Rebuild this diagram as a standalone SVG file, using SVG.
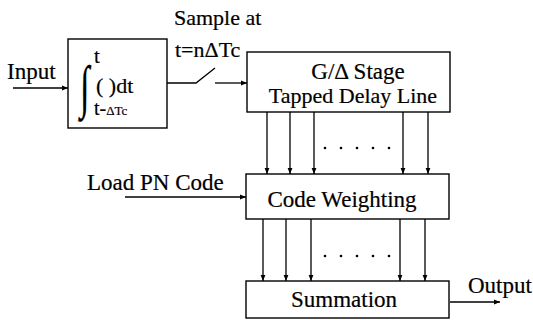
<svg xmlns="http://www.w3.org/2000/svg" width="533" height="320" viewBox="0 0 533 320">
  <style>
    .box { fill: #fff; stroke: #000; stroke-width: 1.4; }
    .wire { fill: none; stroke: #000; stroke-width: 1.3; }
    text { font-family: "Liberation Serif", "Times New Roman", serif; font-size: 23px; fill: #000; stroke: #000; stroke-width: 0.2; }
    .mid { text-anchor: middle; }
    .dot { fill: #000; }
  </style>
  <defs>
    <marker id="arrow" viewBox="0 0 8 8" refX="8" refY="4" markerWidth="6" markerHeight="6" orient="auto" markerUnits="userSpaceOnUse">
      <path d="M0,0.8 L8,4 L0,7.2 Z" fill="#000"/>
    </marker>
  </defs>

  <rect width="533" height="320" fill="#fff"/>

  <!-- integrate-and-dump block -->
  <g id="integrator">
    <rect class="box" x="68" y="39" width="99" height="89"/>
    <text x="80" y="106" style="font-size:58px" transform="translate(80 0) scale(0.6 1) translate(-80 0)">∫</text>
    <text x="94" y="63" style="font-size:21px">t</text>
    <text x="96" y="93" style="font-size:22px">( )dt</text>
    <text x="94" y="115" style="font-size:20px">t-<tspan style="font-size:13px">ΔTc</tspan></text>
  </g>

  <!-- tapped delay line -->
  <g id="delay-line">
    <rect class="box" x="247" y="52" width="203" height="60"/>
    <text class="mid" x="358" y="79">G/Δ Stage</text>
    <text class="mid" x="353" y="103" style="font-size:22px">Tapped Delay Line</text>
  </g>

  <!-- code weighting -->
  <g id="code-weighting">
    <rect class="box" x="246" y="174" width="203" height="45"/>
    <text class="mid" x="342" y="207">Code Weighting</text>
  </g>

  <!-- summation -->
  <g id="summation">
    <rect class="box" x="246" y="281" width="203" height="37"/>
    <text class="mid" x="344" y="307">Summation</text>
  </g>

  <!-- free labels -->
  <g id="labels">
    <text x="7" y="79">Input</text>
    <text x="174" y="25" style="font-size:22px">Sample at</text>
    <text x="175" y="57" style="font-size:22px">t=nΔTc</text>
    <text x="87" y="190">Load PN Code</text>
    <text x="468" y="293">Output</text>
  </g>

  <g id="connectors">
    <!-- input -->
    <line class="wire" x1="13" y1="88" x2="68" y2="88" marker-end="url(#arrow)"/>
    <!-- sampling switch -->
    <polyline class="wire" points="167,83 196,83 215,68"/>
    <line class="wire" x1="215" y1="83" x2="247" y2="83" marker-end="url(#arrow)"/>
    <!-- taps to code weighting -->
    <line class="wire" x1="267" y1="112" x2="267" y2="174" marker-end="url(#arrow)"/>
    <line class="wire" x1="290" y1="112" x2="290" y2="174" marker-end="url(#arrow)"/>
    <line class="wire" x1="314" y1="112" x2="314" y2="174" marker-end="url(#arrow)"/>
    <line class="wire" x1="403" y1="112" x2="403" y2="174" marker-end="url(#arrow)"/>
    <line class="wire" x1="428" y1="112" x2="428" y2="174" marker-end="url(#arrow)"/>
    <!-- PN code load -->
    <line class="wire" x1="125" y1="197" x2="246" y2="197" marker-end="url(#arrow)"/>
    <!-- weighted taps to summation -->
    <line class="wire" x1="263" y1="219" x2="263" y2="281" marker-end="url(#arrow)"/>
    <line class="wire" x1="286" y1="219" x2="286" y2="281" marker-end="url(#arrow)"/>
    <line class="wire" x1="311" y1="219" x2="311" y2="281" marker-end="url(#arrow)"/>
    <line class="wire" x1="400" y1="219" x2="400" y2="281" marker-end="url(#arrow)"/>
    <line class="wire" x1="425" y1="219" x2="425" y2="281" marker-end="url(#arrow)"/>
    <!-- output -->
    <line class="wire" x1="450" y1="302" x2="500" y2="302" marker-end="url(#arrow)"/>
    <!-- ellipsis between taps -->
    <g class="dot">
      <circle cx="325" cy="148" r="1.3"/><circle cx="341" cy="148" r="1.3"/><circle cx="357" cy="148" r="1.3"/><circle cx="373" cy="148" r="1.3"/><circle cx="389" cy="148" r="1.3"/>
      <circle cx="325" cy="256" r="1.3"/><circle cx="341" cy="256" r="1.3"/><circle cx="357" cy="256" r="1.3"/><circle cx="373" cy="256" r="1.3"/><circle cx="389" cy="256" r="1.3"/>
    </g>
  </g>
</svg>
